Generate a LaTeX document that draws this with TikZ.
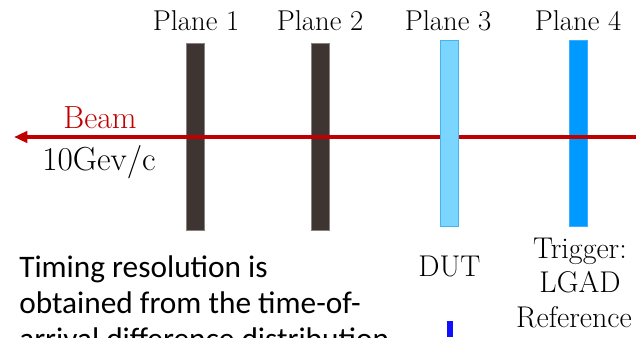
\documentclass[tikz,border=0pt]{standalone}
\usepackage{fontspec}
\newfontfamily\calibri{Carlito}
\usetikzlibrary{arrows.meta}
\definecolor{beamred}{HTML}{C00000}
\definecolor{darkplane}{HTML}{3E3533}
\definecolor{darkedge}{HTML}{8A8280}
\definecolor{dutblue}{HTML}{7AD5FF}
\definecolor{dutedge}{HTML}{45B5F0}
\definecolor{refblue}{HTML}{0099FF}
\definecolor{refedge}{HTML}{3AAEFF}
\definecolor{plotblue}{HTML}{1010FF}
\tikzset{
  plane/.style={rectangle, inner sep=0pt, minimum width=18*0.75pt, line width=0.6pt},
  planelabel/.style={anchor=base, inner sep=0pt, font=\fontsize{21.5}{25}\selectfont},
  sidelabel/.style={anchor=base, inner sep=0pt, font=\fontsize{22.5}{26}\selectfont},
  notetext/.style={anchor=base west, inner sep=0pt, font=\calibri\fontsize{23.5}{27}\selectfont}
}
\begin{document}
\begin{tikzpicture}[x=0.75pt, y=-0.75pt]
\useasboundingbox (0,0) rectangle (636,337);
\clip (0,0) rectangle (636,337);
% planes 1, 2 (telescope) and 4 (trigger)
\foreach \n/\x/\yc/\h/\fc/\ec in {1/195.5/136.5/187/darkplane/darkedge,
                                  2/320/136.5/187/darkplane/darkedge,
                                  4/578.5/133/186/refblue/refedge} {
  \node[plane, minimum height=\h*0.75pt, fill=\fc, draw=\ec] (plane\n) at (\x,\yc) {};
}
% beam
\coordinate (beamstart) at (636,137);
\coordinate (beamend) at (14,137);
\draw[beamred, line width=3pt, -{Triangle[length=10pt, width=8.5pt]}] (beamstart) -- (beamend);
% plane 3 (DUT) sits in front of the beam
\node[plane, minimum height=186*0.75pt, fill=dutblue, draw=dutedge] (plane3) at (449,133) {};
% plane labels
\foreach \n/\x in {1/196,2/320,3/448,4/578} {
  \node[planelabel] (label\n) at (\x,30) {Plane \n};
}
\node[anchor=base, inner sep=0pt, beamred, font=\fontsize{24}{28}\selectfont] (beamlabel) at (100,128) {Beam};
\node[anchor=base, inner sep=0pt, font=\fontsize{25}{29}\selectfont] (momentum) at (99,170) {10Gev/c};
% device labels
\node[sidelabel] (dut) at (449.5,276) {DUT};
\node[sidelabel] (trigger) at (580,258) {Trigger:};
\node[sidelabel] (lgad) at (580,292) {LGAD};
\node[sidelabel] (reference) at (574,327) {Reference};
% note (runs on below the picture)
\node[notetext] (note1) at (19,277) {Timing resolution is};
\node[notetext] (note2) at (19,313) {obtained from the time-of-};
\node[notetext] (note3) at (19,349) {arrival difference distribution};
% top of the plot below
\fill[plotblue] (447,321) rectangle (453,337);
\end{tikzpicture}
\end{document}
